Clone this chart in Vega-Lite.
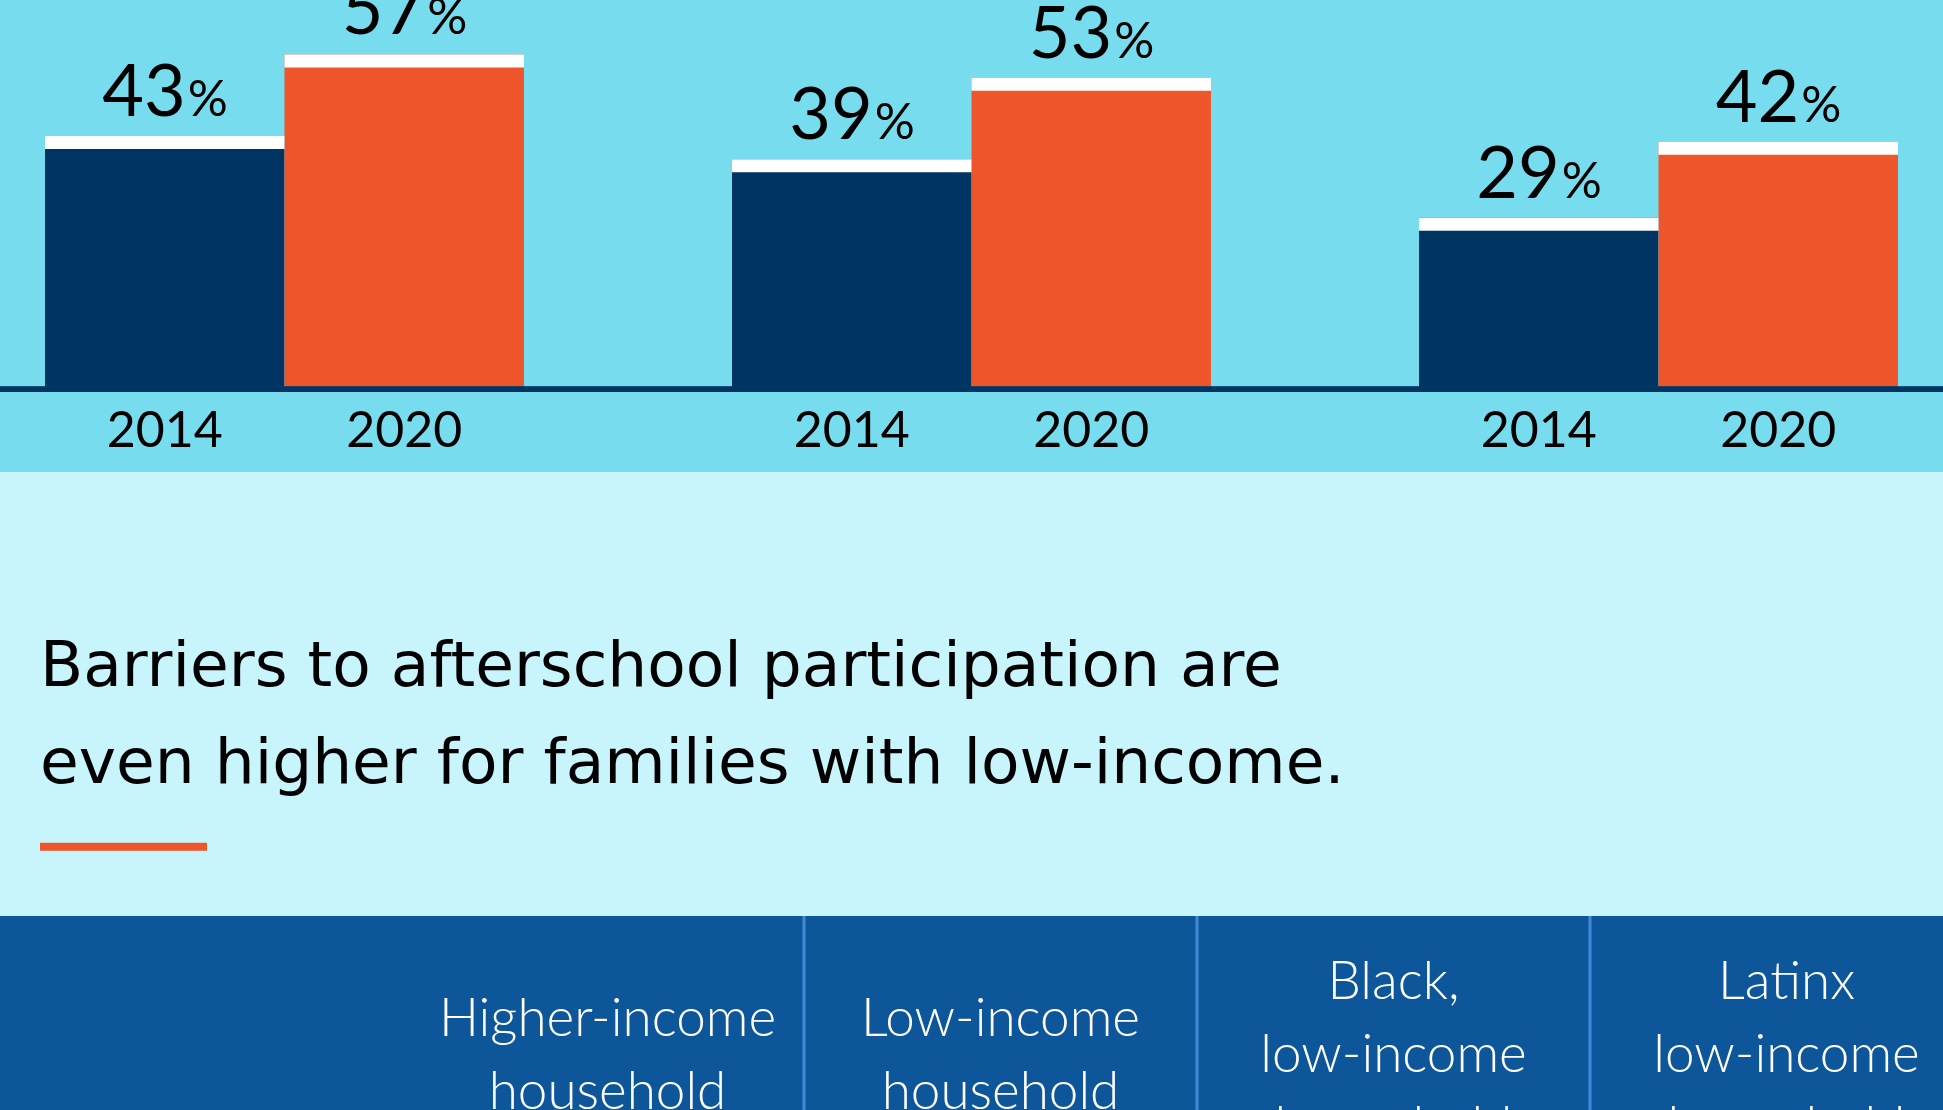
{
  "$schema": "https://vega.github.io/schema/vega-lite/v6.json",
  "background": "#C8F4FB",
  "padding": 0,
  "spacing": 370.7,
  "bounds": "flush",
  "config": {"view": {"stroke": null}, "font": "Lato", "text": {"lineBreak": "\n"}},
  "vconcat": [
    {
      "width": 1943,
      "height": 472,
      "view": {"fill": "#77DDEE", "stroke": null},
      "data": {"values": [
        {"group": "Group A", "year": "2014", "value": 43},
        {"group": "Group A", "year": "2020", "value": 57},
        {"group": "Group B", "year": "2014", "value": 39},
        {"group": "Group B", "year": "2020", "value": 53},
        {"group": "Group C", "year": "2014", "value": 29},
        {"group": "Group C", "year": "2020", "value": 42}
      ]},
      "layer": [
        {
          "mark": {"type": "bar"},
          "encoding": {
            "x": {"field": "group", "type": "nominal", "axis": null, "sort": null, "scale": {"paddingInner": 0.3028, "paddingOuter": 0.0655}},
            "xOffset": {"field": "year", "type": "nominal", "sort": null, "scale": {"paddingInner": 0, "paddingOuter": 0}},
            "y": {"field": "value", "type": "quantitative", "axis": null, "scale": {"domain": [-14.63, 66.33], "nice": false, "zero": false}},
            "color": {"field": "year", "type": "nominal", "legend": null, "scale": {"domain": ["2014", "2020"], "range": ["#003462", "#EE552A"]}}
          }
        },
        {
          "mark": {"type": "tick", "color": "#FFFFFF", "thickness": 13, "size": 239.5, "yOffset": 6.5, "opacity": 1},
          "encoding": {
            "x": {"field": "group", "type": "nominal", "sort": null},
            "xOffset": {"field": "year", "type": "nominal", "sort": null},
            "y": {"field": "value", "type": "quantitative"}
          }
        },
        {
          "mark": {"type": "text", "align": "right", "baseline": "alphabetic", "fontSize": 72, "dx": 21, "dy": -20, "color": "#000000", "clip": true},
          "encoding": {
            "x": {"field": "group", "type": "nominal", "sort": null},
            "xOffset": {"field": "year", "type": "nominal", "sort": null},
            "y": {"field": "value", "type": "quantitative"},
            "text": {"field": "value", "type": "quantitative"}
          }
        },
        {
          "mark": {"type": "text", "align": "left", "baseline": "alphabetic", "fontSize": 50, "dx": 23, "dy": -20, "color": "#000000", "clip": true},
          "encoding": {
            "x": {"field": "group", "type": "nominal", "sort": null},
            "xOffset": {"field": "year", "type": "nominal", "sort": null},
            "y": {"field": "value", "type": "quantitative"},
            "text": {"value": "%"}
          }
        },
        {
          "mark": {"type": "text", "align": "center", "baseline": "alphabetic", "fontSize": 50, "dy": 60, "color": "#000000", "clip": true},
          "encoding": {
            "x": {"field": "group", "type": "nominal", "sort": null},
            "xOffset": {"field": "year", "type": "nominal", "sort": null},
            "y": {"datum": 0},
            "text": {"field": "year", "type": "nominal"}
          }
        },
        {
          "mark": {"type": "rule", "color": "#003462", "strokeWidth": 5, "yOffset": 2.5, "clip": true},
          "encoding": {"y": {"datum": 0}}
        }
      ]
    },
    {
      "spacing": 73.3,
      "bounds": "flush",
      "vconcat": [
        {
          "spacing": 39,
          "bounds": "flush",
          "hconcat": [
            {
              "width": 1,
              "height": 8,
              "data": {"values": [{"part": "indent"}]},
              "mark": {"type": "bar", "opacity": 0},
              "encoding": {}
            },
            {
              "width": 167,
              "height": 8,
              "title": {
                "text": ["Barriers to afterschool participation are", "even higher for families with low-income."],
                "anchor": "start",
                "font": "DejaVu Sans",
                "fontSize": 63,
                "fontWeight": "normal",
                "lineHeight": 97,
                "color": "#000000",
                "offset": 47
              },
              "data": {"values": [{"part": "accent"}]},
              "mark": {"type": "bar", "color": "#EE552A"},
              "encoding": {}
            }
          ]
        },
        {
          "width": 1943,
          "height": 195,
          "view": {"fill": "#0D5699", "stroke": null},
          "data": {"values": [
            {"column": "Higher-income\nhousehold"},
            {"column": "Low-income\nhousehold"},
            {"column": "Black,\nlow-income\nhousehold"},
            {"column": "Latinx\nlow-income\nhousehold"}
          ]},
          "encoding": {
            "x": {"field": "column", "type": "nominal", "axis": null, "scale": {"domain": ["Higher-income\nhousehold", "Low-income\nhousehold", "Black,\nlow-income\nhousehold", "Latinx\nlow-income\nhousehold"], "range": [411, 1983], "paddingInner": 0, "paddingOuter": 0}}
          },
          "layer": [
            {
              "transform": [{"filter": "indexof(datum.column, 'Higher') != 0"}],
              "mark": {"type": "rule", "color": "#3D8BD8", "strokeWidth": 3, "clip": true},
              "encoding": {
                "x": {"field": "column", "type": "nominal", "bandPosition": 0}
              }
            },
            {
              "transform": [{"filter": "length(split(datum.column, '\\n')) == 2"}],
              "mark": {"type": "text", "align": "center", "baseline": "alphabetic", "fontSize": 53, "fontWeight": 300, "lineHeight": 72.7, "color": "#FFFFFF", "dy": 22.5, "clip": true},
              "encoding": {
                "text": {"field": "column", "type": "nominal"}
              }
            },
            {
              "transform": [{"filter": "length(split(datum.column, '\\n')) == 3"}],
              "mark": {"type": "text", "align": "center", "baseline": "alphabetic", "fontSize": 53, "fontWeight": 300, "lineHeight": 72.7, "color": "#FFFFFF", "dy": -14.5, "clip": true},
              "encoding": {
                "text": {"field": "column", "type": "nominal"}
              }
            }
          ]
        }
      ]
    }
  ]
}
